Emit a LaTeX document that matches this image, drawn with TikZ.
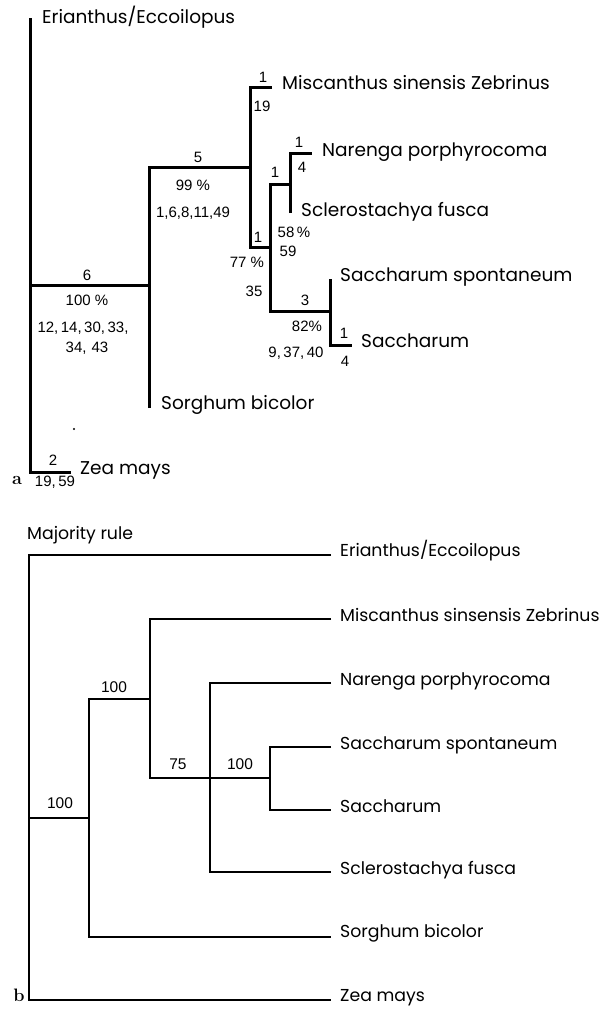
\documentclass[tikz,border=0pt]{standalone}
\usepackage{fontspec}
\newfontfamily\gf{Poppins}
\newfontfamily\nf{Liberation Sans}
\begin{document}
\begin{tikzpicture}[x=1pt,y=-1pt,
  br/.style={line width=3pt,line join=miter},
  brb/.style={line width=2.8pt,line join=miter},
  taxa/.style={anchor=mid west,inner sep=0pt,font=\gf\fontsize{18.5}{20}\selectfont},
  taxb/.style={anchor=mid west,inner sep=0pt,font=\gf\fontsize{17.3}{19}\selectfont},
  numa/.style={inner sep=0pt,font=\nf\fontsize{15}{17}\selectfont},
  numb/.style={inner sep=0pt,font=\nf\fontsize{15.5}{17}\selectfont},
  panel/.style={inner sep=0pt,font=\bfseries\fontsize{18}{20}\selectfont}]
\useasboundingbox (0,0) rectangle (605,1009);
% ---------- panel a: coordinates ----------
\coordinate (aTop) at (30,18);
\coordinate (aZeaT) at (71,472);
\coordinate (a6) at (30,285);
\coordinate (a6r) at (149,285);
\coordinate (aSorT) at (149,408);
\coordinate (a5) at (250,167);
\coordinate (aMisT) at (272,87);
\coordinate (a77) at (250,247);
\coordinate (a77r) at (270,247);
\coordinate (a58) at (290,184);
\coordinate (a35) at (270,311);
\coordinate (aSclT) at (290,213);
\coordinate (aNarT) at (312,153);
\coordinate (aSpoT) at (330,279);
\coordinate (a82) at (330,311);
\coordinate (aSacT) at (352,345);
% branches
\draw[br] (aZeaT) -| (aTop);
\draw[br] (a6) -- (a6r);
\draw[br] (aSorT) |- (a5);
\draw[br] (aMisT) -| (a77) -- (a77r);
\draw[br] (aSclT) |- (aNarT);
\draw[br] (a58) -| (a35) -| (aSpoT);
\draw[br] (a82) |- (aSacT);
% taxa
\node[taxa] (aEri) at (42,21) {Erianthus/Eccoilopus};
\node[taxa] (aMis) at (282,87) {Miscanthus sinensis Zebrinus};
\node[taxa] (aNar) at (322,154) {Narenga porphyrocoma};
\node[taxa] (aScl) at (301,214) {Sclerostachya fusca};
\node[taxa] (aSpo) at (340,279) {Saccharum spontaneum};
\node[taxa] (aSac) at (361,345) {Saccharum};
\node[taxa] (aSor) at (161,407) {Sorghum bicolor};
\node[taxa] (aZea) at (80,472) {Zea mays};
% numbers
\node[numa] (n6) at (87,275) {6};
\node[numa] (n100) at (87,300) {100 \%};
\node[numa] (nl1) at (83,328) {12,\,14,\,30,\,33,};
\node[numa] (nl2) at (87,348) {34,\,\,43};
\node[numa] (n5) at (198,157) {5};
\node[numa] (n99) at (193,185) {99 \%};
\node[numa] (nl3) at (193,213) {1,6,8,11,49};
\node[numa] (nm1) at (263,77) {1};
\node[numa] (nm19) at (262,106) {19};
\node[numa] (nc1) at (258,237) {1};
\node[numa] (n77) at (247,262) {77 \%};
\node[numa] (n35) at (254,291) {35};
\node[numa] (nd1) at (275,172) {1};
\node[numa] (nn1) at (299,142) {1};
\node[numa] (nn4) at (302,167) {4};
\node[numa] (n58) at (294,232) {58\,\%};
\node[numa] (n59) at (288,251) {59};
\node[numa] (n3) at (305,300) {3};
\node[numa] (n82) at (307,326) {82\%};
\node[numa] (nl4) at (296,353) {9,\,37,\,40};
\node[numa] (ns1) at (344,333) {1};
\node[numa] (ns4) at (345,361) {4};
\node[numa] (nz2) at (53,460) {2};
\node[numa] (nz19) at (55,482) {19,\,59};
\fill (74,429) circle (1.1pt);
\node[panel] (pa) at (17,480) {a};
% ---------- panel b ----------
\node[taxb] (bTitle) at (27,537) {Majority rule};
\coordinate (bEriT) at (331,555);
\coordinate (bRootB) at (29,1000);
\coordinate (bZeaT) at (331,1000);
\coordinate (bR) at (29,818);
\coordinate (bN1) at (89,818);
\coordinate (bN2) at (150,699);
\coordinate (bSorB) at (89,937);
\coordinate (bSorT) at (331,937);
\coordinate (bMisT) at (331,619);
\coordinate (bN3) at (150,778);
\coordinate (bN5) at (270,778);
\coordinate (bNarT) at (331,683);
\coordinate (bSclB) at (210,872);
\coordinate (bSclT) at (331,872);
\coordinate (bSpoT) at (331,747);
\coordinate (bSacB) at (270,810);
\coordinate (bSacT) at (331,810);
\draw[brb] (bEriT) -| (bRootB) -- (bZeaT);
\draw[brb] (bR) -- (bN1);
\draw[brb] (bN2) -| (bSorB) -- (bSorT);
\draw[brb] (bMisT) -| (bN3) -- (bN5);
\draw[brb] (bNarT) -| (bSclB) -- (bSclT);
\draw[brb] (bSpoT) -| (bSacB) -- (bSacT);
\node[taxb] (bEri) at (340,554) {Erianthus/Eccoilopus};
\node[taxb] (bMis) at (340,619) {Miscanthus sinsensis Zebrinus};
\node[taxb] (bNar) at (340,683) {Narenga porphyrocoma};
\node[taxb] (bSpo) at (340,747) {Saccharum spontaneum};
\node[taxb] (bSac) at (340,810) {Saccharum};
\node[taxb] (bScl) at (340,872) {Sclerostachya fusca};
\node[taxb] (bSor) at (340,935) {Sorghum bicolor};
\node[taxb] (bZea) at (340,999) {Zea mays};
\node[numb] (b100a) at (114,687) {100};
\node[numb] (b100b) at (60,803) {100};
\node[numb] (b75) at (178,764) {75};
\node[numb] (b100c) at (240,764) {100};
\node[panel] (pb) at (19,995) {b};
\end{tikzpicture}
\end{document}
